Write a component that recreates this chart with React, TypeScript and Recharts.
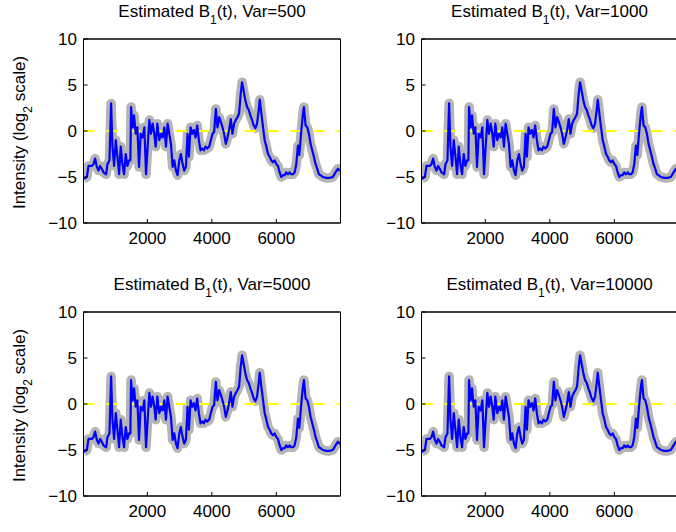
import React from "react";
import { LineChart, Line, XAxis, YAxis, ReferenceLine, ReferenceArea } from "recharts";

// time index of each sample
const timePoints = [
  20, 124, 175, 278, 330, 381, 433, 485, 536, 588, 639, 722, 763, 825, 876,
  918, 969, 1021, 1072, 1124, 1175, 1227, 1278, 1330, 1381, 1433, 1474, 1495,
  1546, 1588, 1639, 1691, 1742, 1794, 1856, 1907, 1959, 2010, 2062, 2113,
  2165, 2216, 2258, 2309, 2371, 2423, 2474, 2526, 2577, 2629, 2680, 2732,
  2784, 2835, 2887, 2938, 2990, 3041, 3093, 3144, 3196, 3247, 3289, 3340,
  3392, 3443, 3495, 3546, 3598, 3649, 3701, 3753, 3804, 3856, 3918, 3969,
  4021, 4072, 4124, 4175, 4227, 4278, 4330, 4381, 4433, 4485, 4536, 4588,
  4639, 4691, 4742, 4794, 4845, 4897, 4938, 4990, 5041, 5093, 5144, 5196,
  5247, 5299, 5351, 5402, 5454, 5485, 5536, 5588, 5639, 5691, 5742, 5794,
  5845, 5897, 5948, 6000, 6052, 6103, 6155, 6206, 6258, 6309, 6361, 6412,
  6464, 6515, 6567, 6619, 6670, 6712, 6773, 6825, 6856, 6907, 6959, 7010,
  7062, 7113, 7165, 7216, 7268, 7320, 7371, 7443, 7546, 7649, 7753, 7835,
  7907, 7959, 7990,
];

// estimated B1(t), log2 intensity
const estB1 = [
  -5.2, -5.0, -3.8, -3.8, -3.6, -3.0, -3.9, -4.3, -3.8, -4.1, -4.5, -4.7,
  -3.6, -3.2, 3.0, -1.7, -3.8, -1.0, -2.8, -4.7, -1.7, -3.6, -4.7, -2.5,
  -3.8, -3.2, -3.2, 2.6, 0.4, 1.7, -0.3, 0.4, -3.9, -0.3, -0.7, 0.4, -4.7,
  -1.7, 1.2, -0.3, 0.8, -0.3, -1.7, 0.8, -1.0, -0.3, -0.7, 0.4, -1.7, 0.8,
  -0.3, -1.4, -3.9, -3.2, -4.3, -4.8, -3.2, -2.5, -3.6, -4.3, -3.9, -0.3,
  -2.8, 0.4, -0.3, 0.1, -0.7, 0.6, -1.0, -2.1, -1.9, -2.1, -1.7, -1.9, -1.7,
  -1.0, -0.3, -0.1, 2.4, 0.4, 1.5, 1.0, 0.4, -0.3, -1.4, -0.7, 0.1, 1.3,
  -0.3, 0.8, 1.2, 1.5, 1.9, 4.1, 5.3, 4.3, 3.3, 2.6, 2.3, 1.7, 1.2, 0.6, 0.3,
  0.8, 2.3, 3.4, 1.9, 0.4, -1.0, -1.7, -2.5, -2.8, -3.2, -3.4, -3.2, -3.6,
  -3.8, -4.5, -5.0, -4.8, -4.8, -4.5, -4.7, -4.5, -4.7, -4.7, -4.5, -3.6,
  -1.6, -2.6, 0.0, 1.9, 2.6, 0.6, 0.4, -0.3, -1.4, -2.1, -2.8, -3.6, -4.1,
  -4.7, -4.8, -5.0, -5.1, -5.1, -5.0, -4.5, -4.1, -4.3, -4.2,
];

const variances = ["500", "1000", "5000", "10000"];
const xTicks = [2000, 4000, 6000];
const yTicks = [-10, -5, 0, 5, 10];
const xDomain: [number, number] = [20, 7990];
const yDomain: [number, number] = [-10, 10];

const FONT = '"Liberation Sans", Arial, Helvetica, sans-serif';
const data = timePoints.map((t, i) => ({ t, est: estB1[i] }));

const fmtY = (v: number) => (v < 0 ? "\u2212" + Math.abs(v) : String(v));

function Panel({ left, top, variance, showYLabel }: { left: number; top: number; variance: string; showYLabel: boolean }) {
  const plotLeft = left + 83.5;
  const plotCenter = plotLeft + 128.5;
  return (
    <>
      <div
        style={{
          position: "absolute",
          left: plotCenter - 150,
          top: top + 2.9,
          width: 300,
          textAlign: "center",
          fontSize: 17,
          lineHeight: "17px",
          whiteSpace: "nowrap",
        }}
      >
        Estimated B<span style={{ fontSize: 12, position: "relative", top: 6.7 }}>1</span>(t), Var={variance}
      </div>
      {showYLabel && (
        <div
          style={{
            position: "absolute",
            left: left + 20 - 120,
            top: top + 131 - 8.5,
            width: 240,
            textAlign: "center",
            fontSize: 17,
            lineHeight: "17px",
            whiteSpace: "nowrap",
            transform: "rotate(-90deg)",
          }}
        >
          Intensity (log<span style={{ fontSize: 12, position: "relative", top: 6.7 }}>2</span> scale)
        </div>
      )}
      <div style={{ position: "absolute", left, top }}>
        <LineChart width={345} height={266} data={data} margin={{ top: 38, right: 3.5, bottom: 0, left: 0 }}>
          <XAxis
            dataKey="t"
            type="number"
            domain={xDomain}
            allowDataOverflow
            ticks={xTicks}
            interval={0}
            height={43}
            tickSize={-4}
            tickMargin={13}
            stroke="#000"
            tick={{ fontSize: 17, fill: "#000" }}
          />
          <XAxis
            xAxisId="top"
            orientation="top"
            type="number"
            domain={xDomain}
            allowDataOverflow
            ticks={xTicks}
            interval={0}
            height={1}
            tickSize={-4}
            stroke="#000"
            tick={false}
          />
          <YAxis
            type="number"
            domain={yDomain}
            allowDataOverflow
            ticks={yTicks}
            interval={0}
            width={83.5}
            tickSize={-4}
            tickMargin={10.5}
            tickFormatter={fmtY}
            stroke="#000"
            tick={{ fontSize: 17, fill: "#000" }}
          />
          <YAxis
            yAxisId="right"
            orientation="right"
            type="number"
            domain={yDomain}
            allowDataOverflow
            ticks={yTicks}
            interval={0}
            width={1}
            tickSize={-4}
            stroke="#000"
            tick={false}
          />
          <Line
            dataKey="est"
            type="linear"
            stroke="#b5b5b5"
            strokeWidth={9.5}
            strokeLinejoin="round"
            dot={false}
            activeDot={false}
            isAnimationActive={false}
          />
          <ReferenceLine y={0} stroke="#ffff00" strokeWidth={2} strokeDasharray="11 12" />
          <Line
            dataKey="est"
            type="linear"
            stroke="#0000ff"
            strokeWidth={2.2}
            strokeLinejoin="round"
            dot={false}
            activeDot={false}
            isAnimationActive={false}
          />
          <ReferenceArea
            x1={xDomain[0]}
            x2={xDomain[1]}
            y1={yDomain[0]}
            y2={yDomain[1]}
            fill="none"
            fillOpacity={0}
            stroke="#000"
            strokeWidth={1}
          />
        </LineChart>
      </div>
    </>
  );
}

export default function App() {
  const positions = [
    { left: 0, top: 0 },
    { left: 337.5, top: 0 },
    { left: 0, top: 273 },
    { left: 337.5, top: 273 },
  ];
  return (
    <div
      style={{
        position: "absolute",
        left: 0,
        top: 0,
        width: 676,
        height: 532,
        overflow: "hidden",
        background: "#fff",
        fontFamily: FONT,
        color: "#000",
      }}
    >
      {positions.map((p, i) => (
        <Panel key={i} left={p.left} top={p.top} variance={variances[i]} showYLabel={i % 2 === 0} />
      ))}
    </div>
  );
}
